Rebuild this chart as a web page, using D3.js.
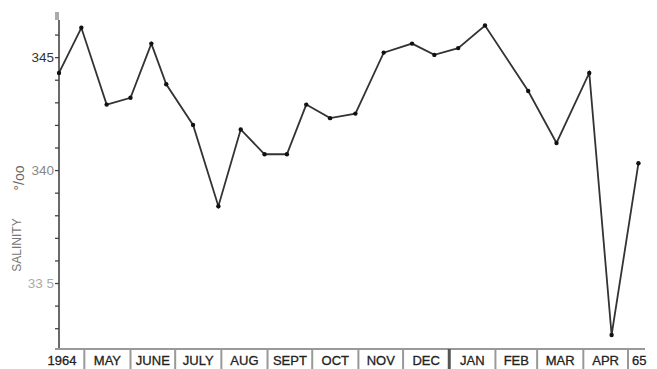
<!DOCTYPE html>
<html lang="en">
<head>
<meta charset="UTF-8">
<title>Salinity 1964-65</title>
<style>
  body { margin: 0; background: #fff; }
  svg { display: block; }
  .axis .domain { stroke: #444; stroke-width: 1.6; }
  .axis line { stroke: #444; stroke-width: 1.3; }
  .axis text { font-family: "Liberation Sans", Arial, sans-serif; }
  .month { font-family: "Liberation Sans", Arial, sans-serif; font-size: 13px; fill: #222; stroke: #222; stroke-width: 0.3; }
</style>
</head>
<body>
<svg width="657" height="369"></svg>
<script src="https://d3js.org/d3.v7.min.js"></script>
<script>
// sampling dates and salinity readings (parts per thousand)
var dates = ["1964-04-14","1964-04-29","1964-05-16","1964-06-01","1964-06-15","1964-06-25",
             "1964-07-13","1964-07-30","1964-08-14","1964-08-30","1964-09-14","1964-09-27",
             "1964-10-13","1964-10-30","1964-11-18","1964-12-07","1964-12-22","1965-01-07",
             "1965-01-25","1965-02-23","1965-03-14","1965-04-05","1965-04-20","1965-05-08"];
var salinity = [34.43,34.63,34.29,34.32,34.56,34.38,
                34.20,33.84,34.18,34.07,34.07,34.29,
                34.23,34.25,34.52,34.56,34.51,34.54,
                34.64,34.35,34.12,34.43,33.27,34.03];
var monthLabels = ["1964","MAY","JUNE","JULY","AUG","SEPT","OCT","NOV","DEC","JAN","FEB","MAR","APR","65"];
var yTicks = [33.3,33.4,33.5,33.6,33.7,33.8,33.9,34.0,34.1,34.2,34.3,34.4,34.5,34.6];
var yLabels = {"33.5": "33 5", "34": "340", "34.5": "345"};

var parse = d3.timeParse("%Y-%m-%d");
var data = dates.map(function(d, i) { return {date: parse(d), value: salinity[i]}; });

var svg = d3.select("svg");

var x = d3.scaleTime()
    .domain([parse("1964-04-14"), parse("1965-05-01")])
    .range([59, 628]);

var y = d3.scaleLinear()
    .domain([33.25, 34.66])
    .range([339.5, 21]);

// little smudge at the top of the axis
svg.append("rect").attr("x", 55).attr("y", 12).attr("width", 4).attr("height", 8).attr("fill", "#aaa");

// y axis
var yAxis = svg.append("g")
    .attr("class", "axis")
    .attr("transform", "translate(59,0)")
    .call(d3.axisLeft(y)
        .tickValues(yTicks)
        .tickSize(4)
        .tickSizeOuter(0)
        .tickFormat(function(d) { return yLabels[String(+d.toFixed(1))] || ""; }));
yAxis.select(".domain").attr("d", "M0,20V349");
yAxis.selectAll("text")
    .attr("x", -5)
    .style("font-size", "13.5px")
    .style("fill", function(d) { return d > 34.4 ? "#333" : (d > 33.9 ? "#888" : "#aaa"); });

// axis title
svg.append("text")
    .attr("transform", "translate(21,245) rotate(-90)")
    .attr("text-anchor", "middle")
    .style("font-family", "Liberation Sans, Arial, sans-serif")
    .style("font-size", "12px")
    .style("fill", "#777")
    .text("SALINITY");
svg.append("text")
    .attr("transform", "translate(24,178) rotate(-90)")
    .attr("text-anchor", "middle")
    .style("font-family", "Liberation Sans, Arial, sans-serif")
    .style("font-size", "14px")
    .style("fill", "#666")
    .text("°/oo");

// month band at the bottom
var band = svg.append("g");
band.append("line")
    .attr("x1", 55).attr("x2", 645)
    .attr("y1", 349).attr("y2", 349)
    .attr("stroke", "#999").attr("stroke-width", 2);

var bounds = d3.timeMonth.range(parse("1964-05-01"), parse("1965-05-02"));
band.selectAll("line.sep")
    .data(bounds)
    .enter().append("line")
    .attr("class", "sep")
    .attr("x1", function(d) { return x(d); })
    .attr("x2", function(d) { return x(d); })
    .attr("y1", 349).attr("y2", 369)
    .attr("stroke", function(d) { return d.getMonth() === 0 ? "#555" : "#999"; })
    .attr("stroke-width", function(d) { return d.getMonth() === 0 ? 3 : 2; });

var starts = [parse("1964-04-01")].concat(bounds);
band.selectAll("text")
    .data(monthLabels)
    .enter().append("text")
    .attr("class", "month")
    .attr("x", function(d, i) {
        var a = starts[i], b = i < bounds.length ? bounds[i] : parse("1965-05-16");
        return (x(a) + x(b)) / 2;
    })
    .attr("y", 365)
    .attr("text-anchor", "middle")
    .text(function(d) { return d; });

// salinity line
var line = d3.line()
    .x(function(d) { return x(d.date); })
    .y(function(d) { return y(d.value); });

svg.append("path")
    .datum(data)
    .attr("fill", "none")
    .attr("stroke", "#333")
    .attr("stroke-width", 1.8)
    .attr("d", line);

svg.selectAll("circle")
    .data(data)
    .enter().append("circle")
    .attr("cx", function(d) { return x(d.date); })
    .attr("cy", function(d) { return y(d.value); })
    .attr("r", 2.2)
    .attr("fill", "#111");
</script>
</body>
</html>
